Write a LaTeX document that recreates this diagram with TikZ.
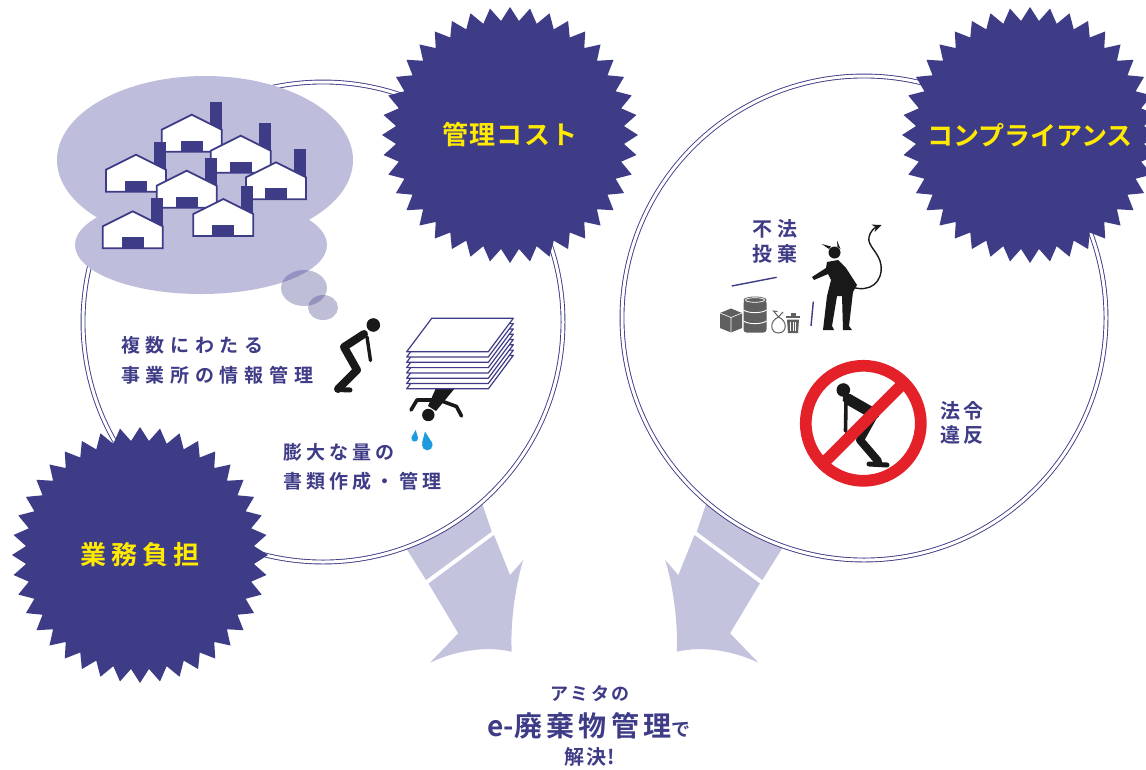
\documentclass[tikz,border=0pt]{standalone}
\usepackage{fontspec}
\usetikzlibrary{shapes.geometric,arrows.meta}

\newfontfamily\jpfont{Noto Sans CJK JP Bold}

\definecolor{amitanavy}{RGB}{62,59,135}
\definecolor{burstyellow}{RGB}{255,234,0}
\definecolor{cloudlav}{RGB}{191,189,220}
\definecolor{arrowlav}{RGB}{196,195,221}
\definecolor{banred}{RGB}{228,32,40}
\definecolor{bingray}{RGB}{95,95,95}
\definecolor{dropblue}{RGB}{30,155,222}

% one factory: x of left wall, y of ground line
\newcommand{\factory}[2]{%
  \fill[amitanavy] ({#1+48},{#2}) rectangle ({#1+60},{#2-50});
  \draw[houseline] ({#1},{#2}) -- ({#1},{#2-22}) -- ({#1+30},{#2-37})
    -- ({#1+60},{#2-22}) -- ({#1+60},{#2}) -- cycle;
  \fill[amitanavy] ({#1+19},{#2}) rectangle ({#1+41},{#2-11});
}

% broad arrow leaving the left ring (mirrored for the right one)
\newcommand{\solvearrow}{%
  \fill[arrowlav] (397.7,534.7) -- (477.5,489.6) -- (491.7,531.7) -- (426,580) -- cycle;
  \fill[arrowlav] (428.5,583.5) -- (494,535) -- (510,575) -- (523.3,560)
    .. controls (516.7,580) and (510,620) .. (511.7,651.7)
    .. controls (486.7,646) and (456.7,650) .. (430,662.7)
    -- (458.3,633.3) -- cycle;
}

\begin{document}
\begin{tikzpicture}[
    x=1pt, y=-1pt,
    burst/.style={star, star points=40, star point ratio=1.12, minimum size=256,
      fill=amitanavy, inner sep=0},
    bursttext/.style={text=burstyellow, inner sep=0, font=\jpfont\fontsize{26}{30}\selectfont},
    ring/.style={draw=amitanavy, double=white, double distance=3pt, line width=0.9pt, fill=white},
    houseline/.style={draw=amitanavy, line width=1.8pt, fill=white, line join=miter},
    note/.style={text=amitanavy, inner sep=0, align=left, anchor=west},
    limb/.style={draw=black!90, line cap=round, line join=round},
    sheet/.style={draw=amitanavy, fill=white, line width=1.2pt, line join=round}
  ]
    \useasboundingbox (0,0) rectangle (1146,769);

    % arrows towards the answer
    \solvearrow
    \begin{scope}[shift={(1188.4,0)}, xscale=-1]
      \solvearrow
    \end{scope}

    % the two rings
    \draw[ring] (323,322) circle [radius=240];
    \draw[ring] (864,318) circle [radius=242];

    % thought bubble with the sites
    \fill[cloudlav] (205,160) ellipse [x radius=148, y radius=84];
    \fill[cloudlav] (201,245) ellipse [x radius=126, y radius=49];
    \fill[amitanavy, fill opacity=0.33] (304,288) ellipse [x radius=23, y radius=18];
    \fill[amitanavy, fill opacity=0.33] (323,307.5) ellipse [x radius=15, y radius=12.5];
    \factory{161.7}{151.7}
    \factory{210.7}{172.7}
    \factory{106}{191.7}
    \factory{246}{199.3}
    \factory{156.7}{207.7}
    \factory{193.3}{236}
    \factory{102.7}{248.3}

    % bursts
    \node[burst] (costburst) at (510,135) {};
    \node[burst] (compburst) at (1030,135) {};
    \node[burst] (loadburst) at (140,555) {};
    \node[bursttext, font=\jpfont\fontsize{26}{30}\selectfont\addfontfeature{LetterSpace=5}]
      (costtext) at (costburst) {管理コスト};
    \node[bursttext] (comptext) at (compburst) {コンプライアンス};
    \node[bursttext, font=\jpfont\fontsize{26}{30}\selectfont\addfontfeature{LetterSpace=20}]
      (loadtext) at (loadburst) {業務負担};

    % worn-out worker
    \fill[black!90] (373.3,325) circle [radius=6.8];
    \draw[limb, line width=8] (364,334) -- (344,347) -- (357,370) -- (338,389);
    \draw[limb, line width=5] (338,389.5) -- (350,390);
    \draw[limb, line width=3.4] (367,337) -- (370.5,360.5);

    % worker under the paper pile
    \fill[black!90] (436,388) -- (455,388) -- (436,411) -- (428,406) -- cycle;
    \fill[black!90] (428.3,415) circle [radius=6.2];
    \draw[limb, line width=3.6] (433,400) -- (417,400) -- (411,410);
    \draw[limb, line width=3.6] (443,401.5) -- (456.5,406.5) -- (461.5,416);
    \foreach \k in {7,6,...,0} {
      \draw[sheet] (406.7,351.7+5.3*\k) -- (431.7,318.3+5.3*\k)
        -- (513.3,318.3+5.3*\k) -- (488.3,351.7+5.3*\k) -- cycle;
    }
    \fill[dropblue] (414.7,438.3) circle [radius=3.3];
    \fill[dropblue] (415.7,430) -- (411.5,437.3) -- (417.9,437.3) -- cycle;
    \fill[dropblue] (427.3,445) circle [radius=5.3];
    \fill[dropblue] (425,431.5) -- (422,443) -- (432.5,443.5) -- cycle;

    % dumped waste
    \fill[bingray] (720,313) -- (731,308.5) -- (742,313) -- (742,328) -- (731,332.5) -- (720,328) -- cycle;
    \draw[white, line width=0.6] (720,313) -- (731,317.5) -- (742,313) (731,317.5) -- (731,332.5);
    \fill[bingray, rounded corners=3] (743.5,300) rectangle (766.5,332.5);
    \fill[bingray] (755,300) ellipse [x radius=11.5, y radius=3.5];
    \draw[white, line width=0.7] (755,300) ellipse [x radius=9.5, y radius=2.3];
    \draw[white, line width=0.9] (743.5,310) .. controls (748,313.5) and (762,313.5) .. (766.5,310)
      (743.5,321) .. controls (748,324.5) and (762,324.5) .. (766.5,321);
    \draw[bingray, line width=1] (778.5,317) .. controls (769,321) and (770,333) .. (778.5,333)
      .. controls (787,333) and (788,321) .. (778.5,317)
      (778.5,317) -- (773.5,311) -- (777.5,311.5) (778.5,317) -- (783,312);
    \fill[bingray] (786,315.5) rectangle (800,318);
    \fill[bingray] (790.5,312.5) rectangle (795.5,315.5);
    \fill[bingray] (787,319.5) -- (799,319.5) -- (798,333) -- (788,333) -- cycle;
    \draw[white, line width=0.8] (790.5,322) -- (790.5,331) (793,322) -- (793,331) (795.5,322) -- (795.5,331);
    \draw[amitanavy, line width=1.4] (731.7,286) -- (776.7,277.3);
    \draw[amitanavy, line width=1.4] (813.3,301.7) -- (811,326);

    % devil
    \fill[black!90] (834.5,252.5) circle [radius=6];
    \fill[black!90] (829,249) -- (821.7,244) -- (831,246.5) -- cycle;
    \fill[black!90] (837.5,247) -- (837,240.5) -- (840.5,249) -- cycle;
    \fill[black!90] (827,262) -- (838,260) -- (846,268) -- (857,285) -- (853,292)
      -- (849,326) -- (852,330) -- (843,330) -- (842,296) -- (837,296) -- (832,326)
      -- (834,330) -- (823,330) -- (827,296) -- (831,280) -- (828,274) -- (814,280)
      -- (812,277) -- (826,268) -- cycle;
    \draw[black!90, line width=1.4, -{Stealth[length=9,width=8]}] (852,287)
      .. controls (870,293) and (883,282) .. (881,265)
      .. controls (879,252) and (867,246) .. (869,237)
      .. controls (870,232) and (874,228) .. (881.5,225);

    % forbidden sign
    \fill[black!90] (843.3,390) circle [radius=6.8];
    \draw[limb, line width=11] (848,399) -- (874,414);
    \draw[limb, line width=8] (874,415) -- (860,440) -- (878,461);
    \draw[limb, line width=5] (869,464) -- (887,465);
    \draw[limb, line width=3.6] (846,402) -- (845.5,431);
    \draw[banred, line width=11.7] (863.3,423.3) circle [radius=57.5];
    \draw[banred, line width=11.7] (904,382.6) -- (822.6,464);

    % texts
    \node[note, font=\jpfont\fontsize{19}{30}\selectfont\addfontfeature{LetterSpace=30}]
      (multisite) at (121,360) {複数にわたる\\事業所の情報管理};
    \node[note, font=\jpfont\fontsize{19}{29}\selectfont\addfontfeature{LetterSpace=22}]
      (paperwork) at (283,467) {膨大な量の\\書類作成・管理};
    \node[note, font=\jpfont\fontsize{20}{25}\selectfont\addfontfeature{LetterSpace=28}]
      (dumping) at (752,241.5) {不法\\投棄};
    \node[note, font=\jpfont\fontsize{20}{24}\selectfont\addfontfeature{LetterSpace=16}]
      (violation) at (940,422.5) {法令\\違反};
    \node[note, anchor=center, font=\jpfont\fontsize{18}{20}\selectfont\addfontfeature{LetterSpace=14}]
      (amita) at (590,694) {アミタの};
    \node[note, anchor=center, font=\jpfont\fontsize{28}{30}\selectfont]
      (service) at (589,726)
      {e-{\addfontfeature{LetterSpace=16}廃棄物管理}{\fontsize{19}{20}\selectfont で}};
    \node[note, anchor=center, font=\jpfont\fontsize{20}{22}\selectfont\addfontfeature{LetterSpace=8}]
      (solved) at (590,757) {解決!};
  \end{tikzpicture}
\end{document}
